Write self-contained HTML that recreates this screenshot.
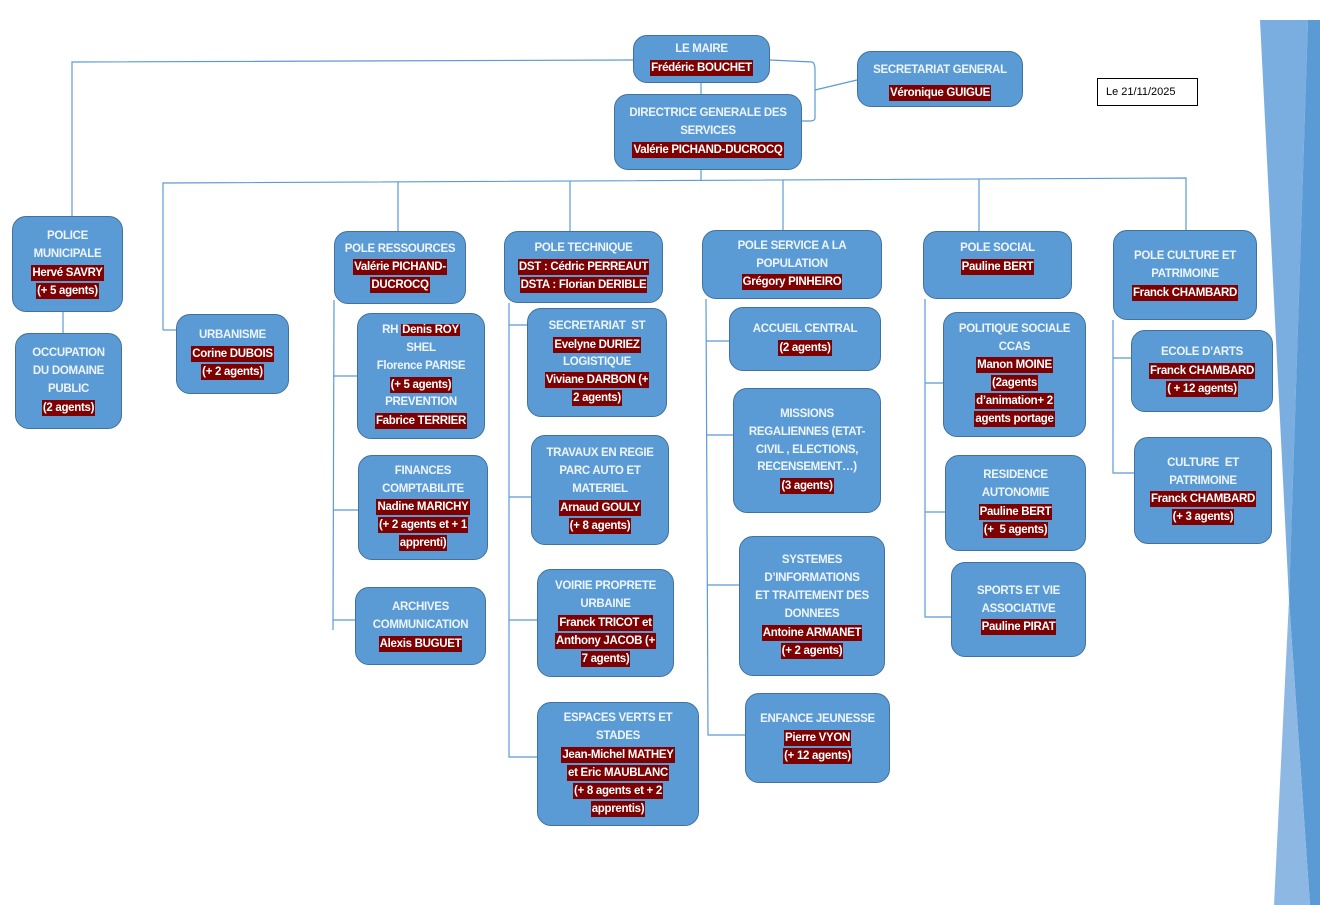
<!DOCTYPE html>
<html><head><meta charset="utf-8"><style>
body{margin:0;width:1320px;height:905px;background:#fff;position:relative;overflow:hidden;font-family:"Liberation Sans",sans-serif;}
.b{position:absolute;box-sizing:border-box;background:#5b9bd5;border:1.5px solid #41719c;border-radius:14px;color:#eef4fb;font-weight:bold;font-size:11.5px;line-height:17.8px;text-align:center;display:flex;flex-direction:column;justify-content:center;align-items:center;letter-spacing:-0.3px}
.b span{background:#7f0000;color:#fff;padding:0 1px;line-height:16px;margin:1px 0}
svg{position:absolute;left:0;top:0}
</style></head><body>
<svg width="1320" height="905">
<polygon points="1260,20 1308,20 1289,600" fill="#7aaee0"/>
<polygon points="1308,20 1320,20 1320,905 1310,905 1289,600" fill="#5b9bd5"/>
<polygon points="1289,600 1310,905 1274,905" fill="#8db8e4"/>
<g stroke="#5b9bd5" stroke-width="1.2" fill="none">
<polyline points="633,60 72,62 72,216"/>
<line x1="701" y1="83" x2="701" y2="94"/>
<path d="M770,60 L812,62 Q815,63 815,70 L815,118 Q815,121 810,121 L802,121"/>
<line x1="815" y1="90" x2="857" y2="80"/>
<line x1="701" y1="170" x2="701" y2="181"/>
<polyline points="163,330 163,183 1186,178 1186,230"/>
<line x1="163" y1="330" x2="176" y2="330"/>
<line x1="398" y1="182" x2="398" y2="231"/>
<line x1="570" y1="181" x2="570" y2="231"/>
<line x1="783" y1="180" x2="783" y2="230"/>
<line x1="979" y1="179" x2="979" y2="231"/>
<line x1="63" y1="312" x2="63" y2="333"/>
<polyline points="334,300 333,630"/>
<line x1="333" y1="376" x2="357" y2="376"/><line x1="333" y1="510" x2="358" y2="510"/><line x1="333" y1="620" x2="355" y2="620"/>
<polyline points="509,303 509,757 537,757"/>
<line x1="509" y1="325" x2="527" y2="325"/><line x1="509" y1="497" x2="531" y2="497"/><line x1="509" y1="620" x2="537" y2="620"/>
<polyline points="706,299 708,735 745,735"/>
<line x1="706" y1="341" x2="729" y2="341"/><line x1="707" y1="435" x2="733" y2="435"/><line x1="707" y1="585" x2="739" y2="585"/>
<polyline points="925,299 925,617 951,617"/>
<line x1="925" y1="383" x2="943" y2="383"/><line x1="925" y1="512" x2="945" y2="512"/>
<polyline points="1113,320 1113,473 1134,473"/>
<line x1="1113" y1="358" x2="1131" y2="358"/>
</g>
</svg>
<div style="position:absolute;left:1097px;top:78px;width:101px;height:28px;box-sizing:border-box;border:1px solid #000;font-size:11px;line-height:26px;padding-left:8px">Le 21/11/2025</div>
<div class="b" style="left:633px;top:35px;width:137px;height:48px">LE MAIRE<br><span>Frédéric BOUCHET</span></div>
<div class="b" style="left:614px;top:94px;width:188px;height:76px">DIRECTRICE GENERALE DES<br>SERVICES<br><span>Valérie PICHAND-DUCROCQ</span></div>
<div class="b" style="left:857px;top:51px;width:166px;height:56px;line-height:27px">SECRETARIAT GENERAL<br><span>Véronique GUIGUE</span></div>
<div class="b" style="left:12px;top:216px;width:111px;height:96px">POLICE<br>MUNICIPALE<br><span>Hervé SAVRY</span><span>(+ 5 agents)</span></div>
<div class="b" style="left:15px;top:333px;width:107px;height:96px">OCCUPATION<br>DU DOMAINE<br>PUBLIC<br><span>(2 agents)</span></div>
<div class="b" style="left:176px;top:314px;width:113px;height:80px">URBANISME<br><span>Corine DUBOIS</span><span>(+ 2 agents)</span></div>
<div class="b" style="left:334px;top:231px;width:132px;height:73px">POLE RESSOURCES<br><span>Valérie PICHAND-</span><span>DUCROCQ</span></div>
<div class="b" style="left:357px;top:313px;width:128px;height:126px"><div>RH <span>Denis ROY</span></div>SHEL<br>Florence PARISE<br><span>(+ 5 agents)</span>PREVENTION<br><span>Fabrice TERRIER</span></div>
<div class="b" style="left:358px;top:455px;width:130px;height:105px">FINANCES<br>COMPTABILITE<br><span>Nadine MARICHY</span><span>(+ 2 agents et + 1</span><span>apprenti)</span></div>
<div class="b" style="left:355px;top:587px;width:131px;height:78px">ARCHIVES<br>COMMUNICATION<br><span>Alexis BUGUET</span></div>
<div class="b" style="left:504px;top:231px;width:159px;height:72px">POLE TECHNIQUE<br><span>DST : Cédric PERREAUT</span><span>DSTA : Florian DERIBLE</span></div>
<div class="b" style="left:527px;top:308px;width:140px;height:109px">SECRETARIAT &nbsp;ST<br><span>Evelyne DURIEZ</span>LOGISTIQUE<br><span>Viviane DARBON (+</span><span>2 agents)</span></div>
<div class="b" style="left:531px;top:435px;width:138px;height:110px">TRAVAUX EN REGIE<br>PARC AUTO ET<br>MATERIEL<br><span>Arnaud GOULY</span><span>(+ 8 agents)</span></div>
<div class="b" style="left:537px;top:569px;width:137px;height:108px">VOIRIE PROPRETE<br>URBAINE<br><span>Franck TRICOT et</span><span>Anthony JACOB (+</span><span>7 agents)</span></div>
<div class="b" style="left:537px;top:702px;width:162px;height:124px">ESPACES VERTS ET<br>STADES<br><span>Jean-Michel MATHEY</span><span>et Eric MAUBLANC</span><span>(+ 8 agents et + 2</span><span>apprentis)</span></div>
<div class="b" style="left:702px;top:230px;width:180px;height:69px">POLE SERVICE A LA<br>POPULATION<br><span>Grégory PINHEIRO</span></div>
<div class="b" style="left:729px;top:307px;width:152px;height:64px">ACCUEIL CENTRAL<br><span>(2 agents)</span></div>
<div class="b" style="left:733px;top:388px;width:148px;height:125px">MISSIONS<br>REGALIENNES (ETAT-<br>CIVIL , ELECTIONS,<br>RECENSEMENT…)<br><span>(3 agents)</span></div>
<div class="b" style="left:739px;top:536px;width:146px;height:140px">SYSTEMES<br>D’INFORMATIONS<br>ET TRAITEMENT DES<br>DONNEES<br><span>Antoine ARMANET</span><span>(+ 2 agents)</span></div>
<div class="b" style="left:745px;top:693px;width:145px;height:90px">ENFANCE JEUNESSE<br><span>Pierre VYON</span><span>(+ 12 agents)</span></div>
<div class="b" style="left:923px;top:231px;width:149px;height:68px;justify-content:flex-start;padding-top:8px">POLE SOCIAL<br><span>Pauline BERT</span></div>
<div class="b" style="left:943px;top:312px;width:143px;height:125px">POLITIQUE SOCIALE<br>CCAS<br><span>Manon MOINE</span><span>(2agents</span><span>d’animation+ 2</span><span>agents portage</span></div>
<div class="b" style="left:945px;top:455px;width:141px;height:96px">RESIDENCE<br>AUTONOMIE<br><span>Pauline BERT</span><span>(+ &nbsp;5 agents)</span></div>
<div class="b" style="left:951px;top:562px;width:135px;height:95px">SPORTS ET VIE<br>ASSOCIATIVE<br><span>Pauline PIRAT</span></div>
<div class="b" style="left:1113px;top:230px;width:144px;height:90px">POLE CULTURE ET<br>PATRIMOINE<br><span>Franck CHAMBARD</span></div>
<div class="b" style="left:1131px;top:330px;width:142px;height:82px">ECOLE D’ARTS<br><span>Franck CHAMBARD</span><span>( + 12 agents)</span></div>
<div class="b" style="left:1134px;top:437px;width:138px;height:107px">CULTURE &nbsp;ET<br>PATRIMOINE<br><span>Franck CHAMBARD</span><span>(+ 3 agents)</span></div>
</body></html>
